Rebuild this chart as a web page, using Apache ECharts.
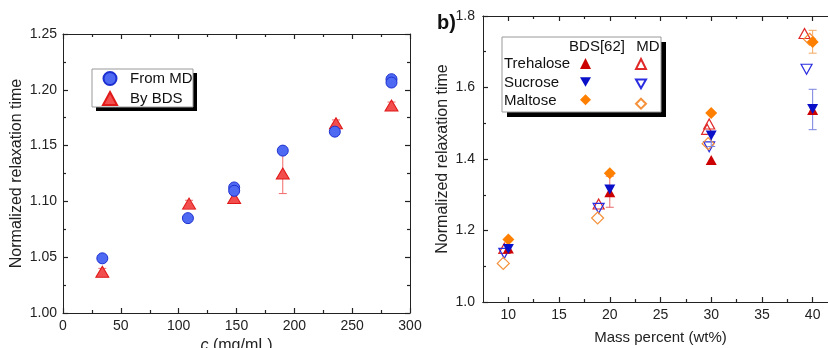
<!DOCTYPE html>
<html>
<head>
<meta charset="utf-8">
<script src="https://cdn.jsdelivr.net/npm/echarts@6/dist/echarts.min.js"></script>
<style>
  html, body { margin: 0; padding: 0; background: #fff; }
  #chart { width: 828px; height: 348px; }
</style>
</head>
<body>
<div id="chart"></div>
<script>
// ---- panel a: relaxation time vs concentration ----
const concMD = [34, 108, 148, 148, 190, 235, 284, 284];
const tauMD = [1.049, 1.085, 1.1125, 1.1095, 1.1455, 1.1625, 1.2095, 1.2065];
const concBDS = [34, 109, 148, 190, 236, 284];
const tauBDS = [1.037, 1.098, 1.103, 1.125, 1.170, 1.186];
const errBDS = [0.003, 0.003, 0.003, 0.018, 0.003, 0.003];

// ---- panel b: relaxation time vs mass percent ----
const massBDS = [10, 20, 30, 40];
const trehaloseBDS = [1.150, 1.307, 1.397, 1.537];
const sucroseBDS = [1.148, 1.315, 1.466, 1.540];
const maltoseBDS = [1.175, 1.360, 1.529, 1.727];

const trehaloseMassMD = [9.6, 18.9, 29.6, 29.8, 39.2];
const trehaloseMD = [1.150, 1.274, 1.483, 1.498, 1.751];
const sucroseMassMD = [9.6, 18.9, 29.8, 39.4];
const sucroseMD = [1.136, 1.262, 1.434, 1.651];
const maltoseMassMD = [9.5, 18.8, 29.7, 39.7];
const maltoseMD = [1.108, 1.235, 1.443, 1.735];

// error bars: [x, low, high]
const trehaloseErr = [[20, 1.265, 1.352]];
const sucroseErr = [[30, 1.435, 1.470], [40, 1.482, 1.595]];
const maltoseErr = [[40, 1.696, 1.760]];

const xTicksB = [10, 15, 20, 25, 30, 35, 40];
const xMinorB = [12.5, 17.5, 22.5, 27.5, 32.5, 37.5];

const font = '"Liberation Sans", Arial, sans-serif';
const axisColor = '#222';

const zip = (xs, ys) => xs.map((x, i) => [x, ys[i]]);

function errRender(color) {
  return function (params, api) {
    const x = api.value(0);
    const lo = api.coord([x, api.value(1)]);
    const hi = api.coord([x, api.value(2)]);
    const style = { stroke: color, lineWidth: 1 };
    return {
      type: 'group',
      children: [
        { type: 'line', shape: { x1: lo[0], y1: lo[1], x2: hi[0], y2: hi[1] }, style },
        { type: 'line', shape: { x1: lo[0] - 4, y1: lo[1], x2: lo[0] + 4, y2: lo[1] }, style },
        { type: 'line', shape: { x1: hi[0] - 4, y1: hi[1], x2: hi[0] + 4, y2: hi[1] }, style }
      ]
    };
  };
}

// every side of the frame is its own axis so ticks show on all four sides
function frameAxis(extra) {
  return Object.assign({
    type: 'value',
    axisLine: { show: true, onZero: false, lineStyle: { color: axisColor, width: 1 } },
    axisTick: { show: true, inside: true, length: 5, lineStyle: { color: axisColor, width: 1.2 } },
    minorTick: { show: true, splitNumber: 2, length: 3, lineStyle: { color: axisColor, width: 1.2 } },
    splitLine: { show: false },
    axisLabel: { show: false }
  }, extra);
}

const labelStyle = { show: true, color: '#222', fontSize: 14, fontFamily: font };
const triDown = 'path://M0,0 L10,0 L5,8.7 Z';
const majorB = { show: true, inside: true, length: 5, customValues: xTicksB, lineStyle: { color: axisColor, width: 1.2 } };
const minorB = { show: true, inside: true, length: 3, customValues: xMinorB, lineStyle: { color: axisColor, width: 1.2 } };

const chart = echarts.init(document.getElementById('chart'));

const option = {
  animation: false,
  grid: [
    { left: 63, top: 34, width: 347, height: 279, outerBoundsMode: 'none', containLabel: false },
    { left: 483, top: 16, width: 355, height: 286, outerBoundsMode: 'none', containLabel: false }
  ],
  xAxis: [
    frameAxis({
      gridIndex: 0, position: 'bottom', min: 0, max: 300, interval: 50,
      axisLabel: Object.assign({}, labelStyle, { margin: 6 }),
      name: '{i|c} (mg/mL)', nameLocation: 'middle', nameGap: 22,
      nameTextStyle: { color: '#222', fontSize: 16, fontFamily: font,
        rich: { i: { fontStyle: 'italic', fontSize: 16, fontFamily: font, color: '#222' } } }
    }),
    frameAxis({ gridIndex: 0, position: 'top', min: 0, max: 300, interval: 50 }),
    frameAxis({
      gridIndex: 1, position: 'bottom', min: 7.5, max: 42.5,
      axisTick: majorB, minorTick: { show: false },
      axisLabel: Object.assign({}, labelStyle, { margin: 6, customValues: xTicksB }),
      name: 'Mass percent (wt%)', nameLocation: 'middle', nameGap: 28,
      nameTextStyle: { color: '#222', fontSize: 15, fontFamily: font }
    }),
    frameAxis({ gridIndex: 1, position: 'bottom', min: 7.5, max: 42.5, axisTick: minorB, minorTick: { show: false } }),
    frameAxis({ gridIndex: 1, position: 'top', min: 7.5, max: 42.5, axisTick: majorB, minorTick: { show: false } }),
    frameAxis({ gridIndex: 1, position: 'top', min: 7.5, max: 42.5, axisTick: minorB, minorTick: { show: false } })
  ],
  yAxis: [
    frameAxis({
      gridIndex: 0, position: 'left', min: 1, max: 1.25, interval: 0.05,
      axisLabel: Object.assign({}, labelStyle, { margin: 6, formatter: v => v.toFixed(2) }),
      name: 'Normalized relaxation time', nameLocation: 'middle', nameGap: 38,
      nameTextStyle: { color: '#222', fontSize: 16, fontFamily: font }
    }),
    frameAxis({ gridIndex: 0, position: 'right', min: 1, max: 1.25, interval: 0.05 }),
    frameAxis({
      gridIndex: 1, position: 'left', min: 1, max: 1.8, interval: 0.2,
      axisLabel: Object.assign({}, labelStyle, { margin: 8, formatter: v => v.toFixed(1) }),
      name: 'Normalized relaxation time', nameLocation: 'middle', nameGap: 32,
      nameTextStyle: { color: '#222', fontSize: 16, fontFamily: font }
    }),
    frameAxis({ gridIndex: 1, position: 'right', min: 1, max: 1.8, interval: 0.2 })
  ],
  legend: [
    {
      data: ['From MD', 'By BDS'], orient: 'vertical', left: 102, top: 71,
      itemWidth: 14, itemHeight: 13, itemGap: 5, padding: 0, selectedMode: false,
      textStyle: { color: '#111', fontSize: 15, fontFamily: font, padding: [0, 0, 0, 8] }
    },
    {
      data: ['Trehalose BDS', 'Sucrose BDS', 'Maltose BDS'], orient: 'vertical',
      left: 580, top: 58, itemWidth: 11, itemHeight: 11, itemGap: 7.5, padding: 0,
      selectedMode: false, formatter: () => ''
    },
    {
      data: ['Trehalose MD', 'Sucrose MD', 'Maltose MD'], orient: 'vertical',
      left: 635, top: 58, itemWidth: 10, itemHeight: 10, itemGap: 8.5, padding: 0,
      selectedMode: false, formatter: () => ''
    }
  ],
  graphic: [
    { type: 'rect', z: 1, shape: { x: 96, y: 73, width: 101, height: 38 }, style: { fill: '#000' } },
    { type: 'rect', z: 2, shape: { x: 92, y: 69, width: 101, height: 38 }, style: { fill: '#fff', stroke: '#999', lineWidth: 1 } },
    { type: 'rect', z: 1, shape: { x: 507, y: 42, width: 159, height: 75 }, style: { fill: '#000' } },
    { type: 'rect', z: 2, shape: { x: 502, y: 37, width: 159, height: 75 }, style: { fill: '#fff', stroke: '#999', lineWidth: 1 } },
    { type: 'text', z: 5, x: 597, y: 47, style: { text: 'BDS[62]', font: '15px ' + font, fill: '#111', align: 'center', verticalAlign: 'middle' } },
    { type: 'text', z: 5, x: 648, y: 47, style: { text: 'MD', font: '15px ' + font, fill: '#111', align: 'center', verticalAlign: 'middle' } },
    { type: 'text', z: 5, x: 504, y: 64, style: { text: 'Trehalose', font: '15px ' + font, fill: '#111', verticalAlign: 'middle' } },
    { type: 'text', z: 5, x: 504, y: 83, style: { text: 'Sucrose', font: '15px ' + font, fill: '#111', verticalAlign: 'middle' } },
    { type: 'text', z: 5, x: 504, y: 101, style: { text: 'Maltose', font: '15px ' + font, fill: '#111', verticalAlign: 'middle' } },
    { type: 'text', z: 5, x: 437, y: 23, style: { text: 'b)', font: 'bold 20px ' + font, fill: '#111', verticalAlign: 'middle' } }
  ],
  series: [
    // panel a
    {
      type: 'custom', xAxisIndex: 0, yAxisIndex: 0, z: 1,
      renderItem: errRender('#f06a6a'),
      data: concBDS.map((c, i) => [c, tauBDS[i] - errBDS[i], tauBDS[i] + errBDS[i]])
    },
    {
      name: 'By BDS', type: 'scatter', xAxisIndex: 0, yAxisIndex: 0, z: 2,
      symbol: 'triangle', symbolSize: [13, 11],
      itemStyle: { color: '#f24e4e', borderColor: '#e01818', borderWidth: 1, opacity: 1 },
      data: zip(concBDS, tauBDS)
    },
    {
      name: 'From MD', type: 'scatter', xAxisIndex: 0, yAxisIndex: 0, z: 3,
      symbol: 'circle', symbolSize: 11,
      itemStyle: { color: '#4f6af2', borderColor: '#1c2fd0', borderWidth: 1, opacity: 1 },
      data: zip(concMD, tauMD)
    },
    // panel b: MD (hollow)
    {
      name: 'Trehalose MD', type: 'scatter', xAxisIndex: 2, yAxisIndex: 2, z: 2,
      symbol: 'triangle', symbolSize: [11, 10],
      itemStyle: { color: 'rgba(255,255,255,0)', borderColor: '#e02828', borderWidth: 1.2, opacity: 1 },
      data: zip(trehaloseMassMD, trehaloseMD)
    },
    {
      name: 'Sucrose MD', type: 'scatter', xAxisIndex: 2, yAxisIndex: 2, z: 2,
      symbol: triDown, symbolSize: [11, 10],
      itemStyle: { color: 'rgba(255,255,255,0)', borderColor: '#2a2ee0', borderWidth: 1.2, opacity: 1 },
      data: zip(sucroseMassMD, sucroseMD)
    },
    {
      name: 'Maltose MD', type: 'scatter', xAxisIndex: 2, yAxisIndex: 2, z: 2,
      symbol: 'diamond', symbolSize: [12, 12],
      itemStyle: { color: 'rgba(255,255,255,0)', borderColor: '#f5913a', borderWidth: 1.2, opacity: 1 },
      data: zip(maltoseMassMD, maltoseMD)
    },
    // panel b: error bars
    { type: 'custom', xAxisIndex: 2, yAxisIndex: 2, z: 3, renderItem: errRender('#e86a6a'), data: trehaloseErr },
    { type: 'custom', xAxisIndex: 2, yAxisIndex: 2, z: 3, renderItem: errRender('#7a82e0'), data: sucroseErr },
    { type: 'custom', xAxisIndex: 2, yAxisIndex: 2, z: 3, renderItem: errRender('#f5a860'), data: maltoseErr },
    // panel b: BDS (filled)
    {
      name: 'Trehalose BDS', type: 'scatter', xAxisIndex: 2, yAxisIndex: 2, z: 4,
      symbol: 'triangle', symbolSize: [11, 10],
      itemStyle: { color: '#cc0000', opacity: 1 },
      data: zip(massBDS, trehaloseBDS)
    },
    {
      name: 'Maltose BDS', type: 'scatter', xAxisIndex: 2, yAxisIndex: 2, z: 4,
      symbol: 'diamond', symbolSize: [12, 12],
      itemStyle: { color: '#ff8000', opacity: 1 },
      data: zip(massBDS, maltoseBDS)
    },
    {
      name: 'Sucrose BDS', type: 'scatter', xAxisIndex: 2, yAxisIndex: 2, z: 5,
      symbol: triDown, symbolSize: [11, 10],
      itemStyle: { color: '#0a10c8', opacity: 1 },
      data: zip(massBDS, sucroseBDS)
    }
  ]
};

chart.setOption(option);
</script>
</body>
</html>
